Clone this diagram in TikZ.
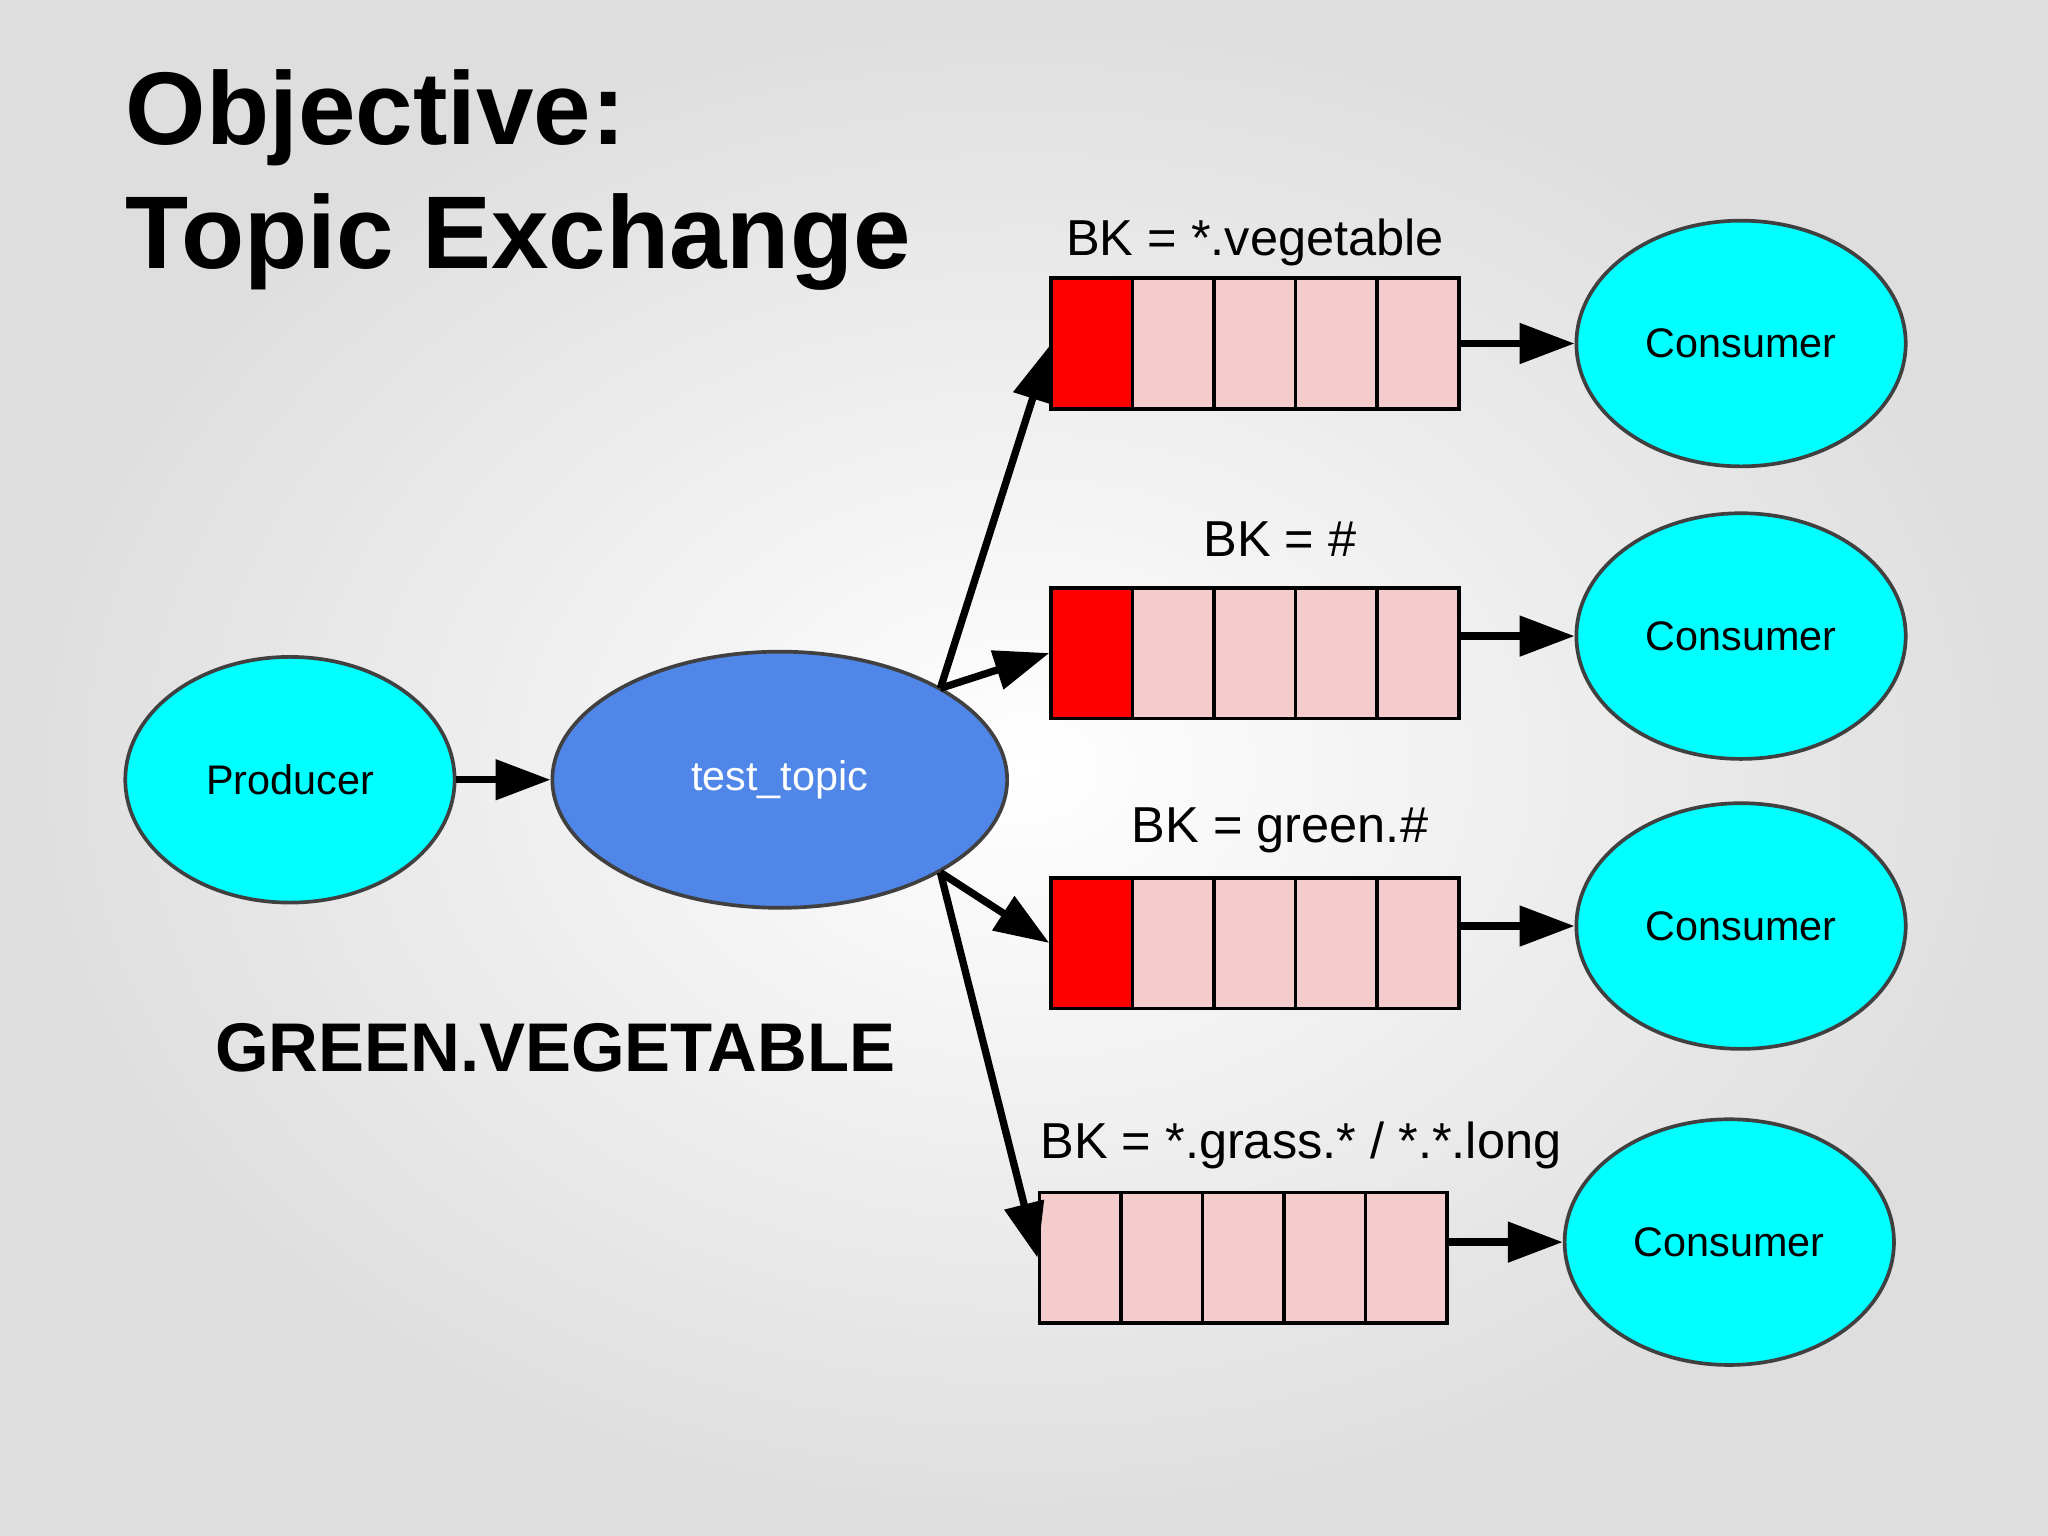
\documentclass[tikz,border=0pt]{standalone}
\usepackage{fontspec}
\setmainfont{Liberation Sans}
\usetikzlibrary{positioning,shapes.geometric,arrows.meta}
\definecolor{cyanfill}{HTML}{00FFFF}
\definecolor{topicblue}{HTML}{4F86E8}
\definecolor{cellpink}{HTML}{F4CCCC}
\tikzset{
  client/.style={ellipse,draw=black!75,thick,fill=cyanfill,minimum width=2.52cm,minimum height=1.88cm,font=\fontsize{9}{10}\selectfont},
  exch/.style={ellipse,draw=black!75,thick,fill=topicblue,text=white,minimum width=3.48cm,minimum height=1.96cm,font=\fontsize{9}{10}\selectfont},
  cell/.style={draw=black,thick,fill=cellpink,minimum width=0.624cm,minimum height=1cm,inner sep=0pt},
  bk/.style={font=\fontsize{11}{12}\selectfont},
  flow/.style={line width=1.6pt,-{Triangle[length=0.42cm,width=0.3cm]}}
}
\begin{document}
\begin{tikzpicture}[x=0.01cm,y=-0.01cm]
  % background
  \shade[inner color=white,outer color=black!13] (0,0) rectangle (1568,1176);
  \useasboundingbox (0,0) rectangle (1568,1176);
  % title
  \node[anchor=west,font=\bfseries\fontsize{22.5}{24}\selectfont] (title1) at (84,90) {Objective:};
  \node[anchor=west,font=\bfseries\fontsize{22.5}{24}\selectfont] (title2) at (84,185) {Topic Exchange};
  \node[font=\bfseries\fontsize{15}{16}\selectfont] (key) at (425,802) {GREEN.VEGETABLE};
  % producer and exchange
  \node[client] (prod) at (222,597) {Producer};
  \node[exch] (topic) at (597,597) {test\_topic};
  \draw[flow] (prod) -- (topic);
  % queues: x of first cell, y, red?, label, consumer x, arrow y
  \foreach \qx/\qy/\red/\lab/\lx/\ly/\cx/\ay [count=\q] in {
      836/263/1/{BK = *.vegetable}/961/186/1333/263,
      836/500/1/{BK = \#}/980/413/1333/487,
      836/722/1/{BK = green.\#}/980/636/1333/709,
      827/963/0/{BK = *.grass.* / *.*.long}/996/877/1324/951} {
    \foreach \i in {0,...,4} {
      \ifnum\i=0 \ifnum\red=1
        \node[cell,fill=red] (q\q c\i) at (\qx+\i*62.4,\qy) {};
      \else
        \node[cell] (q\q c\i) at (\qx+\i*62.4,\qy) {};
      \fi\else
        \node[cell] (q\q c\i) at (\qx+\i*62.4,\qy) {};
      \fi
    }
    \node[bk] (bk\q) at (\lx,\ly) {\lab};
    \node[client] (cons\q) at (\cx,\ay) {Consumer};
    \coordinate (qout\q) at (\qx+4*62.4+31.2,\ay);
    \draw[flow] (qout\q) -- (cons\q);
  }
  % bindings
  \coordinate (up) at (720,527);
  \coordinate (down) at (720,668);
  \draw[flow] (up) -- (q1c0.south west |- 0,265);
  \draw[flow] (up) -- (q2c0.west);
  \draw[flow] (down) -- (q3c0.west);
  \draw[flow] (down) -- (q4c0.west);
\end{tikzpicture}
\end{document}
